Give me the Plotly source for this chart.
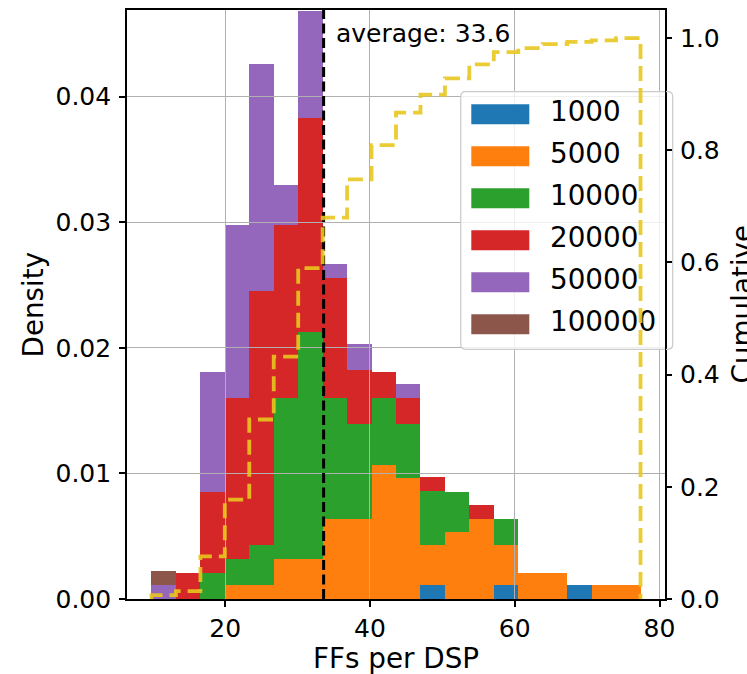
import numpy as np
import plotly.graph_objects as go

# ---------------- data ----------------
BIN_EDGES = [9.82, 13.20, 16.58, 19.95, 23.33, 26.71, 30.09, 33.47, 36.84, 40.22,
             43.60, 46.98, 50.36, 53.73, 57.11, 60.49, 63.87, 67.25, 70.62, 74.00, 77.38]

SERIES_NAMES = ["1000", "5000", "10000", "20000", "50000", "100000"]
SERIES_COLORS = ["#1f77b4", "#ff7f0e", "#2ca02c", "#d62728", "#9467bd", "#8c564b"]

dens_1000 = [0, 0, 0, 0, 0, 0, 0, 0, 0, 0, 0, 0.0011, 0, 0, 0.0011, 0, 0, 0.0011, 0, 0]
dens_5000 = [0, 0, 0, 0.0011, 0.0011, 0.0032, 0.0032, 0.0064, 0.0064, 0.0107,
             0.0096, 0.0032, 0.0053, 0.0064, 0.0032, 0.0021, 0.0021, 0, 0.0011, 0.0011]
dens_10000 = [0, 0, 0.0021, 0.0021, 0.0032, 0.0128, 0.0181, 0.0096, 0.0075, 0.0053,
              0.0043, 0.0043, 0.0032, 0, 0.0021, 0, 0, 0, 0, 0]
dens_20000 = [0, 0.0021, 0.0064, 0.0128, 0.0202, 0.0138, 0.0170, 0.0096, 0.0043, 0.0021,
              0.0021, 0.0011, 0, 0.0011, 0, 0, 0, 0, 0, 0]
dens_50000 = [0.0011, 0, 0.0096, 0.0138, 0.0181, 0.0032, 0.0085, 0.0011, 0.0021, 0,
              0.0011, 0, 0, 0, 0, 0, 0, 0, 0, 0]
dens_100000 = [0.0011, 0, 0, 0, 0, 0, 0, 0, 0, 0, 0, 0, 0, 0, 0, 0, 0, 0, 0, 0]

cumulative = [0.007, 0.014, 0.076, 0.177, 0.320, 0.432, 0.590, 0.680, 0.748, 0.809,
              0.867, 0.899, 0.928, 0.953, 0.975, 0.982, 0.989, 0.993, 0.996, 1.0]

AVERAGE = 33.6

X_TICKS = [20, 40, 60, 80]
Y_TICKS = [0.00, 0.01, 0.02, 0.03, 0.04]
Y2_TICKS = [0.0, 0.2, 0.4, 0.6, 0.8, 1.0]

X_RANGE = [6.44, 80.76]
Y_RANGE = [0, 0.0469]
Y2_RANGE = [0, 1.05]

# ---------------- layout geometry (pixels) ----------------
W, H = 747, 674
PX0, PX1 = 127, 665
PY0, PY1 = 10, 599
FONT = "DejaVu Sans"


def xd(px):
    return X_RANGE[0] + (px - PX0) / (PX1 - PX0) * (X_RANGE[1] - X_RANGE[0])


def yd(py):
    return Y_RANGE[0] + (PY1 - py) / (PY1 - PY0) * (Y_RANGE[1] - Y_RANGE[0])


def xp(px):
    return (px - PX0) / (PX1 - PX0)


def yp(py):
    return (PY1 - py) / (PY1 - PY0)


edges = np.array(BIN_EDGES)
centers = (edges[:-1] + edges[1:]) / 2
widths = np.diff(edges)

fig = go.Figure()

all_series = [dens_1000, dens_5000, dens_10000, dens_20000, dens_50000, dens_100000]
for name, color, vals in zip(SERIES_NAMES, SERIES_COLORS, all_series):
    fig.add_trace(go.Bar(x=centers, y=vals, width=widths, name=name,
                         marker=dict(color=color, line=dict(width=0)),
                         xaxis="x", yaxis="y", showlegend=False))

# ---- overlay subplot B (x2/y3): gridlines above bars, legend box, lines ----
fig.add_trace(go.Scatter(x=[AVERAGE, AVERAGE], y=[Y_RANGE[0], Y_RANGE[1]], mode="lines",
                         line=dict(color="black", width=3, dash="10px,4.5px"),
                         xaxis="x2", yaxis="y3", showlegend=False, hoverinfo="skip"))

LEG_TOP_PX = 114.3
LEG_STEP_PX = 42.0
leg_y = [yd(LEG_TOP_PX + i * LEG_STEP_PX) for i in range(len(SERIES_NAMES))]
fig.add_trace(go.Scatter(x=[xd(550)] * len(SERIES_NAMES), y=leg_y, mode="text",
                         text=SERIES_NAMES, textposition="middle right",
                         textfont=dict(family=FONT, size=27.8, color="black"),
                         cliponaxis=False, xaxis="x2", yaxis="y3",
                         showlegend=False, hoverinfo="skip"))

cx = list(edges) + [edges[-1]]
cy = [0] + list(cumulative) + [0]
fig.add_trace(go.Scatter(x=cx, y=cy, mode="lines",
                         line=dict(color="rgba(232,198,30,0.9)", width=3.8, shape="vh",
                                   dash="15px,7px"),
                         xaxis="x2", yaxis="y2", showlegend=False, hoverinfo="skip"))

# ---------------- legend box + patches ----------------
lx0, lx1, ly0, ly1, r = 460.7, 672.7, 91.7, 349.3, 5
pts = [
    ("M", lx0 + r, ly0), ("L", lx1 - r, ly0), ("Q", lx1, ly0, lx1, ly0 + r),
    ("L", lx1, ly1 - r), ("Q", lx1, ly1, lx1 - r, ly1), ("L", lx0 + r, ly1),
    ("Q", lx0, ly1, lx0, ly1 - r), ("L", lx0, ly0 + r), ("Q", lx0, ly0, lx0 + r, ly0),
]
path = ""
for p in pts:
    if p[0] == "Q":
        path += f"Q{xd(p[1])},{yd(p[2])} {xd(p[3])},{yd(p[4])} "
    else:
        path += f"{p[0]}{xd(p[1])},{yd(p[2])} "
path += "Z"

shapes = [dict(type="path", path=path, xref="x2", yref="y3", layer="between",
               fillcolor="rgba(255,255,255,0.8)", line=dict(color="#cccccc", width=1.3))]
for i, color in enumerate(SERIES_COLORS):
    cyp = LEG_TOP_PX + i * LEG_STEP_PX
    shapes.append(dict(type="rect", xref="x2", yref="y3", layer="between",
                       x0=xd(471.3), x1=xd(529.3), y0=yd(cyp - 10), y1=yd(cyp + 10),
                       fillcolor=color, line=dict(width=0)))
# small part of the legend frame that overhangs the right spine
shapes.append(dict(type="path", xref="paper", yref="paper", layer="above",
                   path=(f"M{xp(666)},{yp(ly0)} L{xp(lx1 - r)},{yp(ly0)} "
                         f"Q{xp(lx1)},{yp(ly0)} {xp(lx1)},{yp(ly0 + r)} "
                         f"L{xp(lx1)},{yp(ly1 - r)} Q{xp(lx1)},{yp(ly1)} {xp(lx1 - r)},{yp(ly1)} "
                         f"L{xp(666)},{yp(ly1)}"),
                   line=dict(color="#cccccc", width=1.3)))

annotations = [
    dict(text="average: 33.6", x=xd(334), y=yd(33), xref="x2", yref="y3",
         xanchor="left", yanchor="middle", showarrow=False,
         font=dict(family=FONT, size=25, color="black")),
    dict(text="FFs per DSP", x=0.5, y=yp(658), xref="paper", yref="paper",
         xanchor="center", yanchor="middle", showarrow=False,
         font=dict(family=FONT, size=27.8, color="black")),
    dict(text="Density", x=xp(33), y=yp(304.5), xref="paper", yref="paper",
         xanchor="center", yanchor="middle", textangle=-90, showarrow=False,
         font=dict(family=FONT, size=27.8, color="black")),
    dict(text="Cumulative", x=xp(742), y=yp(304.5), xref="paper", yref="paper",
         xanchor="center", yanchor="middle", textangle=-90, showarrow=False,
         font=dict(family=FONT, size=27.8, color="black")),
]

tickfont = dict(family=FONT, size=25, color="black")
GRID = "#b0b0b0"

fig.update_layout(
    width=W, height=H,
    margin=dict(l=PX0, r=W - PX1, t=PY0, b=H - PY1, pad=0, autoexpand=False),
    paper_bgcolor="white", plot_bgcolor="rgba(0,0,0,0)",
    barmode="stack", bargap=0,
    showlegend=False,
    shapes=shapes, annotations=annotations,
    xaxis=dict(range=X_RANGE, tickvals=X_TICKS, ticks="outside", ticklen=6, tickwidth=1.5,
               tickcolor="black", tickfont=tickfont, showgrid=False, zeroline=False,
               showline=True, mirror=True, linecolor="black", linewidth=1.6,
               anchor="y"),
    yaxis=dict(range=Y_RANGE, tickvals=Y_TICKS, tickformat=".2f", ticks="outside",
               ticklen=6, tickwidth=1.5, tickcolor="black", tickfont=tickfont,
               ticklabelstandoff=3,
               showgrid=False, zeroline=False, showline=True, mirror=True,
               linecolor="black", linewidth=1.6, anchor="x"),
    xaxis2=dict(range=X_RANGE, tickvals=X_TICKS, showticklabels=False, ticks="",
                showgrid=True, gridcolor=GRID, gridwidth=1.3, zeroline=False,
                showline=False, anchor="y3"),
    yaxis3=dict(range=Y_RANGE, tickvals=Y_TICKS[1:], showticklabels=False, ticks="",
                showgrid=True, gridcolor=GRID, gridwidth=1.3, zeroline=False,
                showline=False, anchor="x2"),
    yaxis2=dict(range=Y2_RANGE, tickvals=Y2_TICKS, tickformat=".1f", ticks="outside",
                ticklen=6, tickwidth=1.5, tickcolor="black", tickfont=tickfont,
                ticklabelstandoff=3,
                showgrid=False, zeroline=False, showline=False, side="right",
                overlaying="y3", anchor="x2"),
)

fig.write_html("out.html", config={"displayModeBar": False},
               post_script="document.body.style.margin='0px';")
